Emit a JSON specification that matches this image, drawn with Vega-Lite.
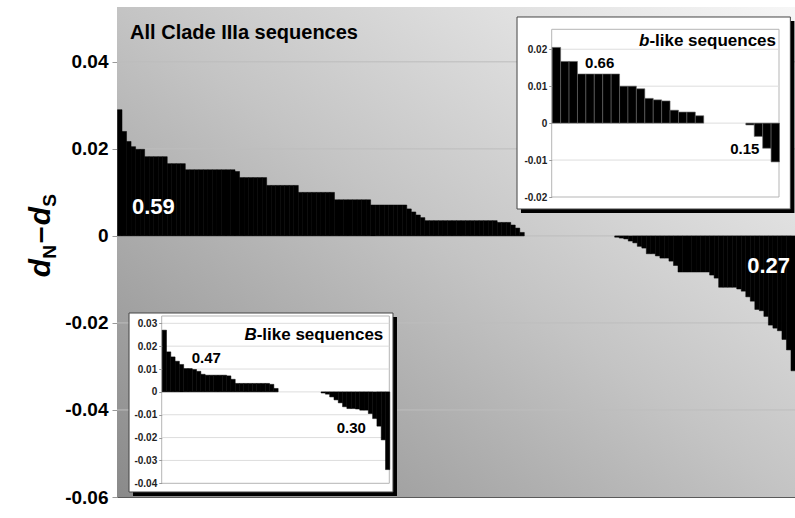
{
  "$schema": "https://vega.github.io/schema/vega-lite/v6.json",
  "width": 678,
  "height": 490,
  "autosize": {"type": "none"},
  "padding": {"left": 117, "top": 7, "right": 0, "bottom": 21},
  "background": "white",
  "config": {"view": {"stroke": "#5a5a5a", "strokeWidth": 1}, "font": "Liberation Sans"},
  "datasets": {
    "main": [
      {"i":0,"v":0.029},{"i":1,"v":0.024},{"i":2,"v":0.0217},{"i":3,"v":0.0205},{"i":4,"v":0.0199},{"i":5,"v":0.0199},
      {"i":6,"v":0.0182},{"i":7,"v":0.0182},{"i":8,"v":0.0182},{"i":9,"v":0.0182},{"i":10,"v":0.0182},
      {"i":11,"v":0.0166},{"i":12,"v":0.0166},{"i":13,"v":0.0166},{"i":14,"v":0.0166},
      {"i":15,"v":0.0152},{"i":16,"v":0.0152},{"i":17,"v":0.0152},{"i":18,"v":0.0152},{"i":19,"v":0.0152},{"i":20,"v":0.0152},
      {"i":21,"v":0.0152},{"i":22,"v":0.0152},{"i":23,"v":0.0152},{"i":24,"v":0.0152},{"i":25,"v":0.0152},{"i":26,"v":0.0148},
      {"i":27,"v":0.0134},{"i":28,"v":0.0134},{"i":29,"v":0.0134},{"i":30,"v":0.0134},{"i":31,"v":0.0134},{"i":32,"v":0.0134},
      {"i":33,"v":0.0116},{"i":34,"v":0.0116},{"i":35,"v":0.0116},{"i":36,"v":0.0116},{"i":37,"v":0.0116},{"i":38,"v":0.0116},{"i":39,"v":0.0116},
      {"i":40,"v":0.0100},{"i":41,"v":0.0100},{"i":42,"v":0.0100},{"i":43,"v":0.0100},{"i":44,"v":0.0100},{"i":45,"v":0.0100},{"i":46,"v":0.0100},{"i":47,"v":0.0100},
      {"i":48,"v":0.0083},{"i":49,"v":0.0083},{"i":50,"v":0.0083},{"i":51,"v":0.0083},{"i":52,"v":0.0083},{"i":53,"v":0.0083},{"i":54,"v":0.0083},{"i":55,"v":0.0083},
      {"i":56,"v":0.0071},{"i":57,"v":0.0071},{"i":58,"v":0.0071},{"i":59,"v":0.0071},{"i":60,"v":0.0071},{"i":61,"v":0.0071},{"i":62,"v":0.0071},{"i":63,"v":0.0071},
      {"i":64,"v":0.0062},{"i":65,"v":0.0055},{"i":66,"v":0.0048},{"i":67,"v":0.0042},
      {"i":68,"v":0.0035},{"i":69,"v":0.0035},{"i":70,"v":0.0035},{"i":71,"v":0.0035},{"i":72,"v":0.0035},{"i":73,"v":0.0035},{"i":74,"v":0.0035},{"i":75,"v":0.0035},
      {"i":76,"v":0.0035},{"i":77,"v":0.0035},{"i":78,"v":0.0035},{"i":79,"v":0.0035},{"i":80,"v":0.0035},{"i":81,"v":0.0035},{"i":82,"v":0.0035},{"i":83,"v":0.0035},
      {"i":84,"v":0.0031},{"i":85,"v":0.0031},{"i":86,"v":0.0031},{"i":87,"v":0.0025},{"i":88,"v":0.0018},{"i":89,"v":0.0008},
      {"i":90,"v":0},{"i":91,"v":0},{"i":92,"v":0},{"i":93,"v":0},{"i":94,"v":0},{"i":95,"v":0},{"i":96,"v":0},{"i":97,"v":0},{"i":98,"v":0},{"i":99,"v":0},
      {"i":100,"v":0},{"i":101,"v":0},{"i":102,"v":0},{"i":103,"v":0},{"i":104,"v":0},{"i":105,"v":0},{"i":106,"v":0},{"i":107,"v":0},{"i":108,"v":0},{"i":109,"v":0},
      {"i":110,"v":-0.0003},{"i":111,"v":-0.0005},{"i":112,"v":-0.0007},{"i":113,"v":-0.0012},{"i":114,"v":-0.0016},{"i":115,"v":-0.0024},
      {"i":116,"v":-0.0028},{"i":117,"v":-0.0041},{"i":118,"v":-0.0041},{"i":119,"v":-0.0046},{"i":120,"v":-0.0051},{"i":121,"v":-0.0051},
      {"i":122,"v":-0.0058},{"i":123,"v":-0.0068},{"i":124,"v":-0.0083},{"i":125,"v":-0.0083},{"i":126,"v":-0.0083},{"i":127,"v":-0.0083},
      {"i":128,"v":-0.0083},{"i":129,"v":-0.0083},{"i":130,"v":-0.0083},{"i":131,"v":-0.0090},{"i":132,"v":-0.0097},{"i":133,"v":-0.0118},
      {"i":134,"v":-0.0118},{"i":135,"v":-0.0118},{"i":136,"v":-0.0118},{"i":137,"v":-0.0122},{"i":138,"v":-0.0127},{"i":139,"v":-0.0140},
      {"i":140,"v":-0.0150},{"i":141,"v":-0.0169},{"i":142,"v":-0.0172},{"i":143,"v":-0.0185},{"i":144,"v":-0.0205},{"i":145,"v":-0.0212},
      {"i":146,"v":-0.0218},{"i":147,"v":-0.0238},{"i":148,"v":-0.0262},{"i":149,"v":-0.0310}
    ],
    "blike": [
      {"i":0,"v":0.0205},{"i":1,"v":0.0167},{"i":2,"v":0.0167},{"i":3,"v":0.0133},{"i":4,"v":0.0133},{"i":5,"v":0.0133},
      {"i":6,"v":0.0133},{"i":7,"v":0.0133},{"i":8,"v":0.0100},{"i":9,"v":0.0100},{"i":10,"v":0.0093},{"i":11,"v":0.0067},
      {"i":12,"v":0.0063},{"i":13,"v":0.0060},{"i":14,"v":0.0035},{"i":15,"v":0.0030},{"i":16,"v":0.0030},{"i":17,"v":0.0020},
      {"i":18,"v":0},{"i":19,"v":0},{"i":20,"v":0},{"i":21,"v":0},{"i":22,"v":0},
      {"i":23,"v":-0.0005},{"i":24,"v":-0.0036},{"i":25,"v":-0.0068},{"i":26,"v":-0.0105}
    ],
    "Blike": [
      {"i":0,"v":0.027},{"i":1,"v":0.0175},{"i":2,"v":0.0153},{"i":3,"v":0.0134},{"i":4,"v":0.012},{"i":5,"v":0.0102},
      {"i":6,"v":0.0102},{"i":7,"v":0.0098},{"i":8,"v":0.009},{"i":9,"v":0.0077},{"i":10,"v":0.0073},{"i":11,"v":0.0073},
      {"i":12,"v":0.0073},{"i":13,"v":0.0073},{"i":14,"v":0.0073},{"i":15,"v":0.007},{"i":16,"v":0.0055},{"i":17,"v":0.0037},
      {"i":18,"v":0.0037},{"i":19,"v":0.0037},{"i":20,"v":0.0037},{"i":21,"v":0.0037},{"i":22,"v":0.0037},{"i":23,"v":0.0037},
      {"i":24,"v":0.0037},{"i":25,"v":0.0033},{"i":26,"v":0.0015},
      {"i":27,"v":0},{"i":28,"v":0},{"i":29,"v":0},{"i":30,"v":0},{"i":31,"v":0},{"i":32,"v":0},{"i":33,"v":0},{"i":34,"v":0},{"i":35,"v":0},{"i":36,"v":0},
      {"i":37,"v":-0.0005},{"i":38,"v":-0.001},{"i":39,"v":-0.0022},{"i":40,"v":-0.0035},{"i":41,"v":-0.0048},{"i":42,"v":-0.0065},
      {"i":43,"v":-0.0073},{"i":44,"v":-0.0073},{"i":45,"v":-0.0075},{"i":46,"v":-0.008},{"i":47,"v":-0.008},{"i":48,"v":-0.0095},
      {"i":49,"v":-0.0117},{"i":50,"v":-0.015},{"i":51,"v":-0.021},{"i":52,"v":-0.034}
    ]
  },
  "resolve": {"scale": {"x": "independent", "y": "independent"}, "axis": {"x": "independent", "y": "independent"}},
  "layer": [
    {
      "data": {"values": [{}]},
      "mark": {"type": "rect", "fill": {"gradient": "linear", "x1": 0, "y1": 1, "x2": 1, "y2": 0,
        "stops": [{"offset": 0, "color": "#8a8a8a"}, {"offset": 0.5, "color": "#c4c4c4"}, {"offset": 1, "color": "#f6f6f6"}]}},
      "encoding": {
        "x": {"datum": 0, "type": "quantitative", "scale": {"domain": [0, 150], "nice": false, "zero": false}, "axis": null},
        "x2": {"datum": 150},
        "y": {"datum": -0.06, "type": "quantitative", "scale": {"domain": [-0.06, 0.0526], "nice": false, "zero": false}, "axis": null},
        "y2": {"datum": 0.0526}
      }
    },
    {
      "data": {"values": [{"t": 0.04}, {"t": 0.02}, {"t": 0}, {"t": -0.02}, {"t": -0.04}]},
      "mark": {"type": "rule", "color": "#bdbdbd", "strokeWidth": 1},
      "encoding": {"y": {"field": "t", "type": "quantitative", "scale": {"domain": [-0.06, 0.0526], "nice": false, "zero": false},
          "axis": {"orient": "left", "values": [-0.06, -0.04, -0.02, 0, 0.02, 0.04], "title": null, "grid": false, "domain": false,
            "ticks": true, "tickSize": 5, "tickColor": "#999999",
            "labelExpr": "datum.value == 0 ? '0' : (datum.value < 0 ? '-' : '') + format(abs(datum.value), '.2f')",
            "labelFont": "Liberation Sans", "labelFontWeight": "bold", "labelFontSize": 19, "labelColor": "black", "labelPadding": 4}}}
    },
    {
      "data": {"name": "main"},
      "mark": {"type": "bar", "color": "black", "binSpacing": 0, "stroke": "black", "strokeWidth": 0.5},
      "encoding": {
        "x": {"field": "i", "type": "quantitative", "bin": {"step": 1, "extent": [0, 150]}, "scale": {"domain": [0, 150], "nice": false, "zero": false}, "axis": null},
        "y": {"field": "v", "type": "quantitative", "scale": {"domain": [-0.06, 0.0526], "nice": false, "zero": false}, "axis": null},
        "strokeOpacity": {"condition": {"test": "datum.v == 0", "value": 0}, "value": 1}
      }
    },
    {
      "data": {"values": [{}]},
      "mark": {"type": "text", "text": "All Clade IIIa sequences", "font": "Liberation Sans", "fontWeight": "bold", "fontSize": 20, "align": "left", "baseline": "middle", "color": "black"},
      "encoding": {"x": {"datum": 2.9, "type": "quantitative", "scale": {"domain": [0, 150], "nice": false, "zero": false}, "axis": null},
        "y": {"datum": 0.0466, "type": "quantitative", "scale": {"domain": [-0.06, 0.0526], "nice": false, "zero": false}, "axis": null}}
    },
    {
      "data": {"values": [{}]},
      "mark": {"type": "text", "text": "0.59", "font": "Liberation Sans", "fontWeight": "bold", "fontSize": 22, "align": "left", "baseline": "middle", "color": "white"},
      "encoding": {"x": {"datum": 3.3, "type": "quantitative", "scale": {"domain": [0, 150], "nice": false, "zero": false}, "axis": null},
        "y": {"datum": 0.0067, "type": "quantitative", "scale": {"domain": [-0.06, 0.0526], "nice": false, "zero": false}, "axis": null}}
    },
    {
      "data": {"values": [{}]},
      "mark": {"type": "text", "text": "0.27", "font": "Liberation Sans", "fontWeight": "bold", "fontSize": 22, "align": "right", "baseline": "middle", "color": "white"},
      "encoding": {"x": {"datum": 148.9, "type": "quantitative", "scale": {"domain": [0, 150], "nice": false, "zero": false}, "axis": null},
        "y": {"datum": -0.0069, "type": "quantitative", "scale": {"domain": [-0.06, 0.0526], "nice": false, "zero": false}, "axis": null}}
    },
    {
      "data": {"values": [{}]},
      "mark": {"type": "text", "text": "d", "font": "Liberation Sans", "fontWeight": "bold", "fontStyle": "italic", "fontSize": 30, "angle": 270, "align": "left", "baseline": "alphabetic", "dx": 0, "color": "black"},
      "encoding": {"x": {"datum": -14.8, "type": "quantitative", "scale": {"domain": [0, 150], "nice": false, "zero": false}, "axis": null},
        "y": {"datum": -0.0095, "type": "quantitative", "scale": {"domain": [-0.06, 0.0526], "nice": false, "zero": false}, "axis": null}}
    },
    {
      "data": {"values": [{}]},
      "mark": {"type": "text", "text": "N", "font": "Liberation Sans", "fontWeight": "bold", "fontSize": 19, "angle": 270, "align": "left", "baseline": "alphabetic", "dx": 18.5, "dy": 6, "color": "black"},
      "encoding": {"x": {"datum": -14.8, "type": "quantitative", "scale": {"domain": [0, 150], "nice": false, "zero": false}, "axis": null},
        "y": {"datum": -0.0095, "type": "quantitative", "scale": {"domain": [-0.06, 0.0526], "nice": false, "zero": false}, "axis": null}}
    },
    {
      "data": {"values": [{}]},
      "mark": {"type": "text", "text": "–", "font": "Liberation Sans", "fontWeight": "bold", "fontSize": 30, "angle": 270, "align": "left", "baseline": "alphabetic", "dx": 34, "color": "black"},
      "encoding": {"x": {"datum": -14.8, "type": "quantitative", "scale": {"domain": [0, 150], "nice": false, "zero": false}, "axis": null},
        "y": {"datum": -0.0095, "type": "quantitative", "scale": {"domain": [-0.06, 0.0526], "nice": false, "zero": false}, "axis": null}}
    },
    {
      "data": {"values": [{}]},
      "mark": {"type": "text", "text": "d", "font": "Liberation Sans", "fontWeight": "bold", "fontStyle": "italic", "fontSize": 30, "angle": 270, "align": "left", "baseline": "alphabetic", "dx": 52, "color": "black"},
      "encoding": {"x": {"datum": -14.8, "type": "quantitative", "scale": {"domain": [0, 150], "nice": false, "zero": false}, "axis": null},
        "y": {"datum": -0.0095, "type": "quantitative", "scale": {"domain": [-0.06, 0.0526], "nice": false, "zero": false}, "axis": null}}
    },
    {
      "data": {"values": [{}]},
      "mark": {"type": "text", "text": "S", "font": "Liberation Sans", "fontWeight": "bold", "fontSize": 19, "angle": 270, "align": "left", "baseline": "alphabetic", "dx": 70.5, "dy": 6, "color": "black"},
      "encoding": {"x": {"datum": -14.8, "type": "quantitative", "scale": {"domain": [0, 150], "nice": false, "zero": false}, "axis": null},
        "y": {"datum": -0.0095, "type": "quantitative", "scale": {"domain": [-0.06, 0.0526], "nice": false, "zero": false}, "axis": null}}
    },
    {
      "data": {"values": [{}]},
      "mark": {"type": "rect", "fill": "black"},
      "encoding": {
        "x": {"datum": -3.65, "type": "quantitative", "scale": {"domain": [0, 27], "range": [434.7, 662], "nice": false, "zero": false}, "axis": null},
        "x2": {"datum": 28.83},
        "y": {"datum": -0.02433, "type": "quantitative", "scale": {"domain": [-0.02, 0.0254], "range": [190, 22.3], "nice": false, "zero": false}, "axis": null},
        "y2": {"datum": 0.02765}
      }
    },
    {
      "data": {"values": [{}]},
      "mark": {"type": "rect", "fill": "white", "stroke": "#444444", "strokeWidth": 1},
      "encoding": {
        "x": {"datum": -4.12, "type": "quantitative", "scale": {"domain": [0, 27], "range": [434.7, 662], "nice": false, "zero": false}, "axis": null},
        "x2": {"datum": 28.35},
        "y": {"datum": -0.02325, "type": "quantitative", "scale": {"domain": [-0.02, 0.0254], "range": [190, 22.3], "nice": false, "zero": false}, "axis": null},
        "y2": {"datum": 0.02873}
      }
    },
    {
      "data": {"values": [{}]},
      "mark": {"type": "rect", "fill": "white", "stroke": "#b5b5b5", "strokeWidth": 1},
      "encoding": {
        "x": {"datum": 0, "type": "quantitative", "scale": {"domain": [0, 27], "range": [434.7, 662], "nice": false, "zero": false}, "axis": null},
        "x2": {"datum": 27},
        "y": {"datum": -0.02, "type": "quantitative", "scale": {"domain": [-0.02, 0.0254], "range": [190, 22.3], "nice": false, "zero": false}, "axis": null},
        "y2": {"datum": 0.0254}
      }
    },
    {
      "data": {"values": [{"t": 0.02}, {"t": 0.01}, {"t": 0}, {"t": -0.01}]},
      "mark": {"type": "rule", "color": "#dddddd", "strokeWidth": 1},
      "encoding": {
        "x": {"datum": 0, "type": "quantitative", "scale": {"domain": [0, 27], "range": [434.7, 662], "nice": false, "zero": false}, "axis": null},
        "x2": {"datum": 27},
        "y": {"field": "t", "type": "quantitative", "scale": {"domain": [-0.02, 0.0254], "range": [190, 22.3], "nice": false, "zero": false},
          "axis": {"orient": "left", "offset": -434.7, "zindex": 2, "values": [-0.02, -0.01, 0, 0.01, 0.02], "title": null, "grid": false, "domain": false,
            "ticks": true, "tickSize": 3, "tickColor": "#999999",
            "labelExpr": "datum.value == 0 ? '0' : (datum.value < 0 ? '-' : '') + format(abs(datum.value), '.2f')",
            "labelFont": "Liberation Sans", "labelFontWeight": "bold", "labelFontSize": 10, "labelColor": "#222222", "labelPadding": 2}}
      }
    },
    {
      "data": {"name": "blike"},
      "mark": {"type": "bar", "color": "black", "binSpacing": 0, "stroke": "#666666", "strokeWidth": 0.6},
      "encoding": {
        "x": {"field": "i", "type": "quantitative", "bin": {"step": 1, "extent": [0, 27]}, "scale": {"domain": [0, 27], "range": [434.7, 662], "nice": false, "zero": false}, "axis": null},
        "y": {"field": "v", "type": "quantitative", "scale": {"domain": [-0.02, 0.0254], "range": [190, 22.3], "nice": false, "zero": false}, "axis": null},
        "strokeOpacity": {"condition": {"test": "datum.v == 0", "value": 0}, "value": 1}
      }
    },
    {
      "data": {"values": [{}]},
      "mark": {"type": "text", "text": "0.66", "font": "Liberation Sans", "fontWeight": "bold", "fontSize": 15, "align": "left", "baseline": "middle", "color": "black"},
      "encoding": {"x": {"datum": 3.96, "type": "quantitative", "scale": {"domain": [0, 27], "range": [434.7, 662], "nice": false, "zero": false}, "axis": null},
        "y": {"datum": 0.0162, "type": "quantitative", "scale": {"domain": [-0.02, 0.0254], "range": [190, 22.3], "nice": false, "zero": false}, "axis": null}}
    },
    {
      "data": {"values": [{}]},
      "mark": {"type": "text", "text": "0.15", "font": "Liberation Sans", "fontWeight": "bold", "fontSize": 15, "align": "left", "baseline": "middle", "color": "black"},
      "encoding": {"x": {"datum": 21.2, "type": "quantitative", "scale": {"domain": [0, 27], "range": [434.7, 662], "nice": false, "zero": false}, "axis": null},
        "y": {"datum": -0.0071, "type": "quantitative", "scale": {"domain": [-0.02, 0.0254], "range": [190, 22.3], "nice": false, "zero": false}, "axis": null}}
    },
    {
      "data": {"values": [{}]},
      "mark": {"type": "text", "text": "-like sequences", "font": "Liberation Sans", "fontWeight": "bold", "fontSize": 17, "align": "right", "baseline": "middle", "dx": -3, "color": "black"},
      "encoding": {"x": {"datum": 27, "type": "quantitative", "scale": {"domain": [0, 27], "range": [434.7, 662], "nice": false, "zero": false}, "axis": null},
        "y": {"datum": 0.0223, "type": "quantitative", "scale": {"domain": [-0.02, 0.0254], "range": [190, 22.3], "nice": false, "zero": false}, "axis": null}}
    },
    {
      "data": {"values": [{}]},
      "mark": {"type": "text", "text": "b", "font": "Liberation Sans", "fontWeight": "bold", "fontStyle": "italic", "fontSize": 17, "align": "right", "baseline": "middle", "dx": -129.6, "color": "black"},
      "encoding": {"x": {"datum": 27, "type": "quantitative", "scale": {"domain": [0, 27], "range": [434.7, 662], "nice": false, "zero": false}, "axis": null},
        "y": {"datum": 0.0223, "type": "quantitative", "scale": {"domain": [-0.02, 0.0254], "range": [190, 22.3], "nice": false, "zero": false}, "axis": null}}
    },
    {
      "data": {"values": [{}]},
      "mark": {"type": "rect", "fill": "black"},
      "encoding": {
        "x": {"datum": -6.68, "type": "quantitative", "scale": {"domain": [0, 53], "range": [44.7, 272.3], "nice": false, "zero": false}, "axis": null},
        "x2": {"datum": 54.79},
        "y": {"datum": -0.04555, "type": "quantitative", "scale": {"domain": [-0.04, 0.0332], "range": [476.3, 309], "nice": false, "zero": false}, "axis": null},
        "y2": {"datum": 0.03276}
      }
    },
    {
      "data": {"values": [{}]},
      "mark": {"type": "rect", "fill": "white", "stroke": "#444444", "strokeWidth": 1},
      "encoding": {
        "x": {"datum": -7.61, "type": "quantitative", "scale": {"domain": [0, 53], "range": [44.7, 272.3], "nice": false, "zero": false}, "axis": null},
        "x2": {"datum": 53.86},
        "y": {"datum": -0.0438, "type": "quantitative", "scale": {"domain": [-0.04, 0.0332], "range": [476.3, 309], "nice": false, "zero": false}, "axis": null},
        "y2": {"datum": 0.03451}
      }
    },
    {
      "data": {"values": [{}]},
      "mark": {"type": "rect", "fill": "white", "stroke": "#b5b5b5", "strokeWidth": 1},
      "encoding": {
        "x": {"datum": 0, "type": "quantitative", "scale": {"domain": [0, 53], "range": [44.7, 272.3], "nice": false, "zero": false}, "axis": null},
        "x2": {"datum": 53},
        "y": {"datum": -0.04, "type": "quantitative", "scale": {"domain": [-0.04, 0.0332], "range": [476.3, 309], "nice": false, "zero": false}, "axis": null},
        "y2": {"datum": 0.0332}
      }
    },
    {
      "data": {"values": [{"t": 0.03}, {"t": 0.02}, {"t": 0.01}, {"t": 0}, {"t": -0.01}, {"t": -0.02}, {"t": -0.03}]},
      "mark": {"type": "rule", "color": "#dddddd", "strokeWidth": 1},
      "encoding": {
        "x": {"datum": 0, "type": "quantitative", "scale": {"domain": [0, 53], "range": [44.7, 272.3], "nice": false, "zero": false}, "axis": null},
        "x2": {"datum": 53},
        "y": {"field": "t", "type": "quantitative", "scale": {"domain": [-0.04, 0.0332], "range": [476.3, 309], "nice": false, "zero": false},
          "axis": {"orient": "left", "offset": -44.7, "zindex": 2, "values": [-0.04, -0.03, -0.02, -0.01, 0, 0.01, 0.02, 0.03], "title": null, "grid": false, "domain": false,
            "ticks": true, "tickSize": 3, "tickColor": "#999999",
            "labelExpr": "datum.value == 0 ? '0' : (datum.value < 0 ? '-' : '') + format(abs(datum.value), '.2f')",
            "labelFont": "Liberation Sans", "labelFontWeight": "bold", "labelFontSize": 10, "labelColor": "#222222", "labelPadding": 2}}
      }
    },
    {
      "data": {"name": "Blike"},
      "mark": {"type": "bar", "color": "black", "binSpacing": 0, "stroke": "black", "strokeWidth": 0.5},
      "encoding": {
        "x": {"field": "i", "type": "quantitative", "bin": {"step": 1, "extent": [0, 53]}, "scale": {"domain": [0, 53], "range": [44.7, 272.3], "nice": false, "zero": false}, "axis": null},
        "y": {"field": "v", "type": "quantitative", "scale": {"domain": [-0.04, 0.0332], "range": [476.3, 309], "nice": false, "zero": false}, "axis": null},
        "strokeOpacity": {"condition": {"test": "datum.v == 0", "value": 0}, "value": 1}
      }
    },
    {
      "data": {"values": [{}]},
      "mark": {"type": "text", "text": "0.47", "font": "Liberation Sans", "fontWeight": "bold", "fontSize": 15, "align": "left", "baseline": "middle", "color": "black"},
      "encoding": {"x": {"datum": 7.0, "type": "quantitative", "scale": {"domain": [0, 53], "range": [44.7, 272.3], "nice": false, "zero": false}, "axis": null},
        "y": {"datum": 0.0147, "type": "quantitative", "scale": {"domain": [-0.04, 0.0332], "range": [476.3, 309], "nice": false, "zero": false}, "axis": null}}
    },
    {
      "data": {"values": [{}]},
      "mark": {"type": "text", "text": "0.30", "font": "Liberation Sans", "fontWeight": "bold", "fontSize": 15, "align": "left", "baseline": "middle", "color": "black"},
      "encoding": {"x": {"datum": 40.75, "type": "quantitative", "scale": {"domain": [0, 53], "range": [44.7, 272.3], "nice": false, "zero": false}, "axis": null},
        "y": {"datum": -0.016, "type": "quantitative", "scale": {"domain": [-0.04, 0.0332], "range": [476.3, 309], "nice": false, "zero": false}, "axis": null}}
    },
    {
      "data": {"values": [{}]},
      "mark": {"type": "text", "text": "-like sequences", "font": "Liberation Sans", "fontWeight": "bold", "fontSize": 17, "align": "right", "baseline": "middle", "dx": -6, "color": "black"},
      "encoding": {"x": {"datum": 53, "type": "quantitative", "scale": {"domain": [0, 53], "range": [44.7, 272.3], "nice": false, "zero": false}, "axis": null},
        "y": {"datum": 0.0249, "type": "quantitative", "scale": {"domain": [-0.04, 0.0332], "range": [476.3, 309], "nice": false, "zero": false}, "axis": null}}
    },
    {
      "data": {"values": [{}]},
      "mark": {"type": "text", "text": "B", "font": "Liberation Sans", "fontWeight": "bold", "fontStyle": "italic", "fontSize": 17, "align": "right", "baseline": "middle", "dx": -132.6, "color": "black"},
      "encoding": {"x": {"datum": 53, "type": "quantitative", "scale": {"domain": [0, 53], "range": [44.7, 272.3], "nice": false, "zero": false}, "axis": null},
        "y": {"datum": 0.0249, "type": "quantitative", "scale": {"domain": [-0.04, 0.0332], "range": [476.3, 309], "nice": false, "zero": false}, "axis": null}}
    }
  ]
}
